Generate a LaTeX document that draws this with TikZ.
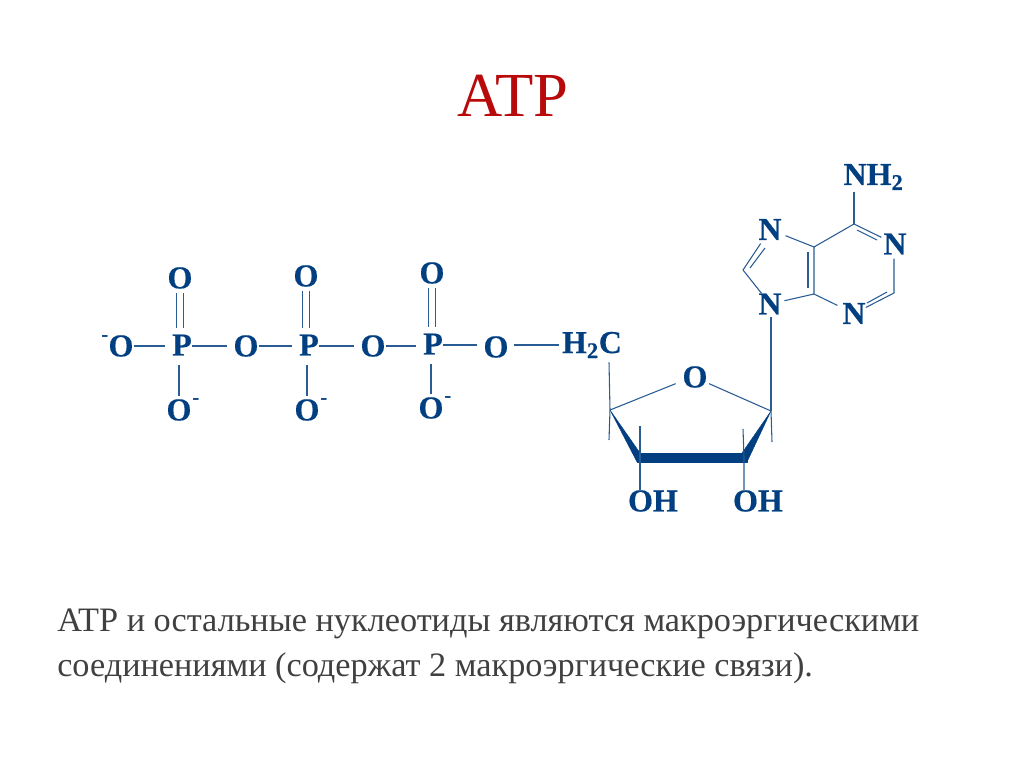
\documentclass[tikz,border=0pt]{standalone}
\usepackage{fontspec}
\setmainfont{Liberation Serif}
\usepackage{xcolor}
\definecolor{atpblue}{HTML}{023F80}
\definecolor{atpred}{HTML}{B80A0A}
\definecolor{atpgray}{HTML}{404040}
\tikzset{
	atom/.style={text=atpblue,font=\fontsize{24}{26}\selectfont\bfseries\addfontfeature{FakeBold=0.4}},
	charge/.style={text=atpblue,font=\fontsize{16}{16}\selectfont\bfseries},
	bond/.style={draw=atpblue!85!white,line width=0.8pt},
	dblbond/.style={bond,double,double distance=3.8pt},
	wedge/.style={fill=atpblue,draw=atpblue,line width=0.3pt,line join=round},
	caption/.style={anchor=base west,text=atpgray,font=\fontsize{25.7}{30}\selectfont}
}
\begin{document}
\begin{tikzpicture}[x=0.75pt,y=0.75pt]
	\tikzstyle{every node}+=[inner sep=0pt]
	\useasboundingbox (0,0) rectangle (1024,-767);
	\node [text=atpred,font=\fontsize{47}{50}\selectfont] (title) at (513,-96) {ATP};
	% phosphate chain
	\node [atom] (om) at (121,-346) {O};
	\node [charge] (mleft) at (105,-339) {-};
	\node [atom] (p1) at (182,-345) {P};
	\node [atom] (o1t) at (180,-278) {O};
	\node [atom] (o1b) at (179,-410) {O};
	\node [charge] (m1) at (196,-402) {-};
	\node [atom] (o12) at (246,-346) {O};
	\node [atom] (p2) at (309,-345) {P};
	\node [atom] (o2t) at (306,-276) {O};
	\node [atom] (o2b) at (307,-410) {O};
	\node [charge] (m2) at (324,-402) {-};
	\node [atom] (o23) at (373,-346) {O};
	\node [atom] (p3) at (433,-344) {P};
	\node [atom] (o3t) at (432,-273) {O};
	\node [atom] (o3b) at (431,-408) {O};
	\node [charge] (m3) at (448,-400) {-};
	\node [atom] (o5) at (496,-347) {O};
	\node [atom] (ch2) at (592,-345) {H\textsubscript{2}C};
	\draw [bond] (om.east) -- ([xshift=-5pt]p1.west |- om);
	\draw [bond] (p1.east |- om) -- ([xshift=-5pt]o12.west);
	\draw [bond] (o12.east) -- ([xshift=-5pt]p2.west |- o12);
	\draw [bond] (p2.east |- o12) -- ([xshift=-5pt]o23.west);
	\draw [bond] (o23.east) -- ([xshift=-5pt]p3.west |- o23);
	\draw [bond] (p3.east |- ch2) -- ([xshift=-5pt]o5.west |- ch2);
	\draw [bond] ([xshift=4pt]o5.east |- ch2) -- ([xshift=-2pt]ch2.west);
	\draw [dblbond] ([yshift=-3pt]o1t.south) -- ([yshift=5pt]o1t |- p1.north);
	\draw [dblbond] ([yshift=-3pt]o2t.south) -- ([yshift=5pt]o2t |- p2.north);
	\draw [dblbond] ([yshift=-3pt]o3t.south) -- ([yshift=5pt]o3t |- p3.north);
	\draw [bond] ([yshift=-7pt]p1.south -| o1b) -- ([yshift=2pt]o1b.north);
	\draw [bond] ([yshift=-7pt]p2.south -| o2b) -- ([yshift=2pt]o2b.north);
	\draw [bond] ([yshift=-7pt]p3.south -| o3b) -- ([yshift=2pt]o3b.north);
	% sugar ring
	\coordinate (c4) at (610,-410);
	\coordinate (c3) at (640,-457.5);
	\coordinate (c2) at (744,-457.5);
	\coordinate (c1) at (771,-411);
	\coordinate (c4d) at (609,-440);
	\coordinate (c3u) at (640,-426);
	\coordinate (c2u) at (743,-429);
	\coordinate (c1d) at (772,-442);
	\node [atom] (or) at (695,-377) {O};
	\node [atom] (oh3) at (653,-501) {OH};
	\node [atom] (oh2) at (758,-501) {OH};
	\draw [wedge] (c4) -- (637,-462) -- (640,-453) -- cycle;
	\draw [wedge] (c1) -- (747,-462) -- (742,-453) -- cycle;
	\draw [wedge] (637,-453) rectangle (747,-462);
	\draw [bond] (c4) -- ([xshift=-5pt,yshift=-5pt]or.west);
	\draw [bond] ([xshift=1pt,yshift=-5pt]or.east) -- (c1);
	\draw [bond] ([yshift=-3pt]ch2.south -| c4d) -- (c4) -- (c4d);
	\draw [bond] (c3u) -- (c3) -- (oh3.north -| c3);
	\draw [bond] (c2u) -- (c2) -- (oh2.north -| c2);
	\draw [bond] (c1) -- (c1d);
	% adenine
	\node [atom] (nh2) at (873.5,-177) {NH\textsubscript{2}};
	\node [atom] (n1) at (895,-244) {N};
	\node [atom] (n3) at (854,-313.5) {N};
	\node [atom] (n7) at (770,-229.5) {N};
	\node [atom] (n9) at (770,-304) {N};
	\coordinate (c6) at (854,-224);
	\coordinate (c5) at (814,-247);
	\coordinate (c4n) at (814,-294);
	\coordinate (c2n) at (894,-293);
	\coordinate (c8) at (743,-270);
	\coordinate (c6i) at (857,-230);
	\coordinate (n1i) at (877,-240);
	\coordinate (c5i) at (808,-252);
	\coordinate (c4i) at (808,-288);
	\coordinate (c2i) at (887,-292);
	\coordinate (n3i) at (867,-303);
	\coordinate (c8i) at (750,-268);
	\coordinate (n7i) at (765,-248);
	\draw [bond] ([yshift=-1pt]c6 |- nh2.south) -- (c6);
	\draw [bond,shorten >=1.5pt] (c6) -- (n1);
	\draw [bond] (c6i) -- (n1i);
	\draw [bond,shorten >=3pt] (c6) -- (c5) -- (n7);
	\draw [bond,shorten >=4pt] (c5) -- (c4n) -- (n3);
	\draw [bond] (c5i) -- (c4i);
	\draw [bond,shorten >=2pt] (c4n) -- (n9);
	\draw [bond] ([yshift=-3pt]n1.south -| c2n) -- (c2n) -- (n3);
	\draw [bond] (c2i) -- (n3i);
	\draw [bond] (n9) -- (c8);
	\draw [bond,shorten >=3pt] (c8) -- (n7);
	\draw [bond] (c8i) -- (n7i);
	\draw [bond] ([yshift=-2pt]n9.south -| c1) -- (c1);
	% caption
	\node [caption] (cap1) at (57,-631) {ATP и остальные нуклеотиды являются макроэргическими};
	\node [caption] (cap2) at (57,-676) {соединениями (содержат 2 макроэргические связи).};
\end{tikzpicture}
\end{document}
